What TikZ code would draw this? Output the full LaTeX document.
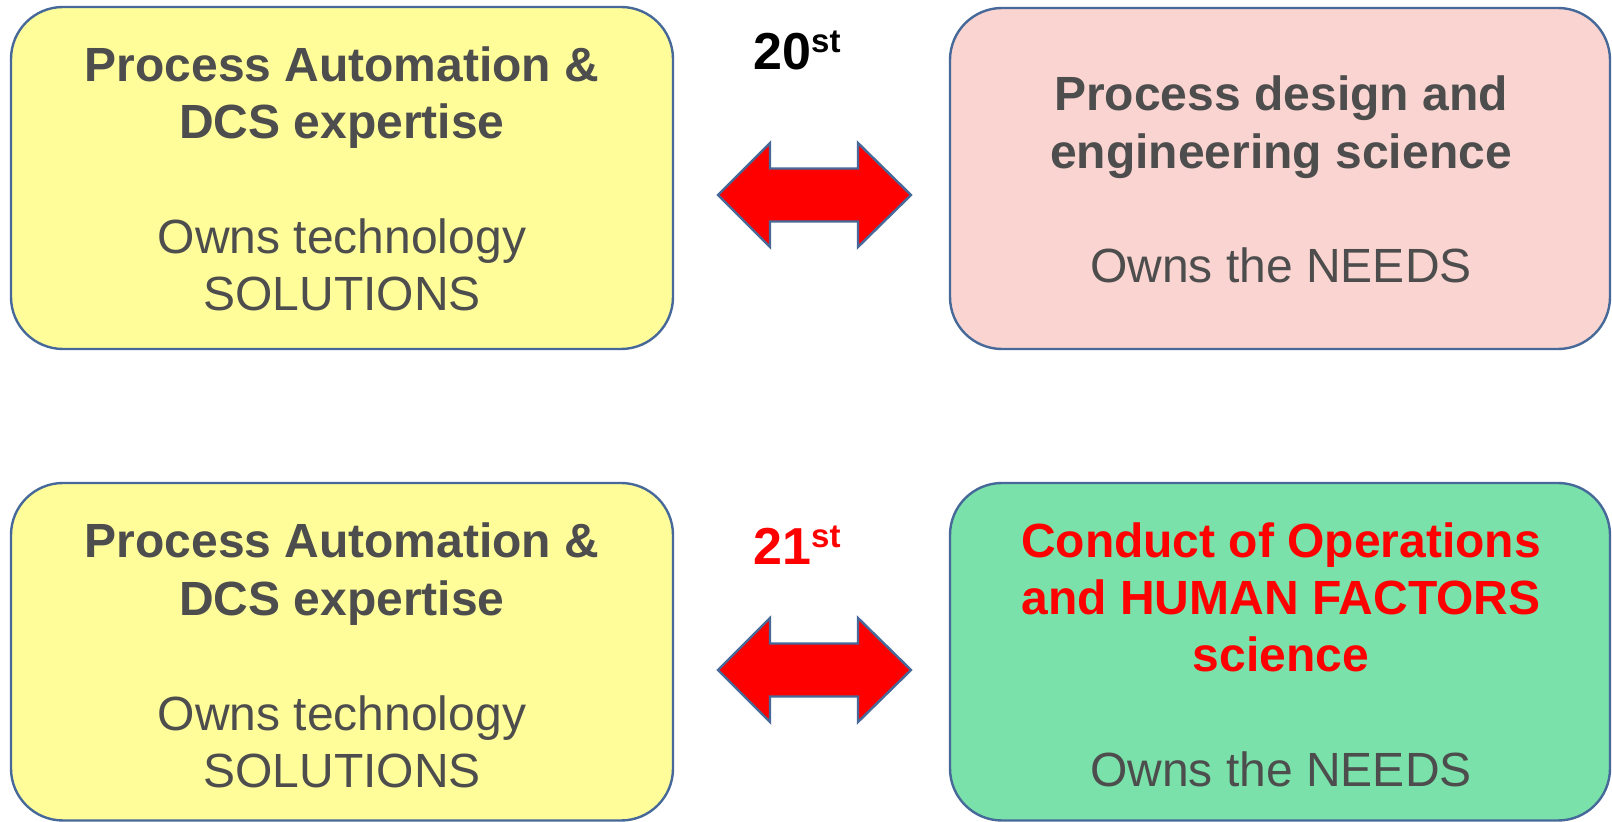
\documentclass[tikz,border=0pt]{standalone}
\usepackage{fontspec}
\setmainfont{Liberation Sans}
\definecolor{txtgray}{HTML}{4D4D4D}
\definecolor{boxline}{HTML}{46699A}
\definecolor{yellowfill}{HTML}{FFFD9A}
\definecolor{pinkfill}{HTML}{F9D4D0}
\definecolor{greenfill}{HTML}{79E1A9}
\definecolor{arrred}{HTML}{FF0000}
\tikzset{
  panel/.style={draw=boxline, line width=1.2pt, rounded corners=26pt},
  fatarrow/.style={draw=boxline, line width=1.2pt, fill=arrred, line join=miter},
  ln/.style={anchor=base, inner sep=0pt, text=txtgray},
  lb/.style={ln, font=\fontsize{24}{28}\selectfont\bfseries},
  lr/.style={ln, font=\fontsize{24}{28}\selectfont},
  lred/.style={lb, text=arrred},
  century/.style={anchor=base west, inner sep=0pt, font=\fontsize{26}{30}\selectfont\bfseries}
}
\begin{document}
\begin{tikzpicture}[x=0.5pt, y=-0.5pt]
\useasboundingbox (0,0) rectangle (1612,822);
% panels
\draw[panel, fill=yellowfill] (11,7) rectangle (673,349);
\draw[panel, fill=pinkfill] (950,8) rectangle (1610,349);
\draw[panel, fill=yellowfill] (11,483) rectangle (673,820.5);
\draw[panel, fill=greenfill] (950,483) rectangle (1610,820.5);
% arrows
\foreach \name/\cy in {a/195, b/670}{
  \coordinate (\name) at (814.5,\cy);
  \draw[fatarrow] ([xshift=-96.5*0.5pt]\name)
     -- ([xshift=-44.5*0.5pt, yshift=52*0.5pt]\name)
     -- ([xshift=-44.5*0.5pt, yshift=26.5*0.5pt]\name)
     -- ([xshift=43.5*0.5pt, yshift=26.5*0.5pt]\name)
     -- ([xshift=43.5*0.5pt, yshift=52*0.5pt]\name)
     -- ([xshift=96.5*0.5pt]\name)
     -- ([xshift=43.5*0.5pt, yshift=-52*0.5pt]\name)
     -- ([xshift=43.5*0.5pt, yshift=-26.5*0.5pt]\name)
     -- ([xshift=-44.5*0.5pt, yshift=-26.5*0.5pt]\name)
     -- ([xshift=-44.5*0.5pt, yshift=-52*0.5pt]\name)
     -- cycle;
}
% century labels
\node[century, text=black] (c20) at (753,70) {20\raisebox{8.5pt}{\fontsize{16.5}{18}\selectfont st}};
\node[century, text=arrred] (c21) at (753,565) {21\raisebox{8.5pt}{\fontsize{16.5}{18}\selectfont st}};
% top yellow text
\node[lb] (ya1) at (342,81.7) {Process Automation \&};
\node[lb] (ya2) at (342,138.3) {DCS expertise};
\node[lr] (ya3) at (342,253.3) {Owns technology};
\node[lr] (ya4) at (342,311) {SOLUTIONS};
% pink text
\node[lb] (p1) at (1281,110.7) {Process design and};
\node[lb] (p2) at (1281,168.3) {engineering science};
\node[lr] (p3) at (1281,282.3) {Owns the NEEDS};
% bottom yellow text
\node[lb] (yb1) at (342,558) {Process Automation \&};
\node[lb] (yb2) at (342,615.5) {DCS expertise};
\node[lr] (yb3) at (342,731) {Owns technology};
\node[lr] (yb4) at (342,788) {SOLUTIONS};
% green text
\node[lred] (g1) at (1281,557.3) {Conduct of Operations};
\node[lred] (g2) at (1281,615) {and HUMAN FACTORS};
\node[lred] (g3) at (1281,671.7) {science};
\node[lr] (g4) at (1281,786.7) {Owns the NEEDS};
\end{tikzpicture}
\end{document}
